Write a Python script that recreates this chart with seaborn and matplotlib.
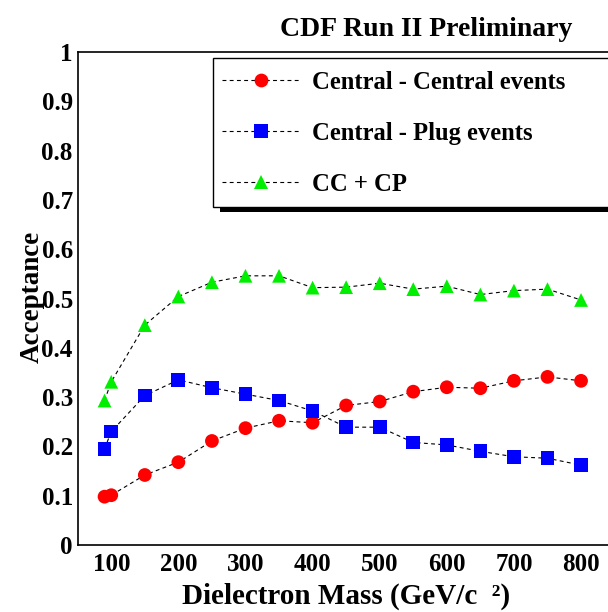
import numpy as np
import pandas as pd
import matplotlib
matplotlib.use("Agg")
import matplotlib.pyplot as plt
from matplotlib.lines import Line2D
from matplotlib.patches import Rectangle
from matplotlib.ticker import MultipleLocator, FixedLocator
import seaborn as sns

# ---- data ----
mass = [90, 100, 150, 200, 250, 300, 350, 400, 450, 500, 550, 600, 650, 700, 750, 800]
cc_acc = [0.098, 0.101, 0.142, 0.168, 0.211, 0.237, 0.252, 0.248, 0.283, 0.291,
          0.311, 0.320, 0.318, 0.333, 0.341, 0.333]
cp_acc = [0.195, 0.230, 0.303, 0.335, 0.319, 0.306, 0.293, 0.272, 0.239, 0.239,
          0.208, 0.203, 0.190, 0.179, 0.176, 0.162]
tot_acc = [0.293, 0.331, 0.446, 0.504, 0.533, 0.546, 0.546, 0.522, 0.523, 0.531,
           0.519, 0.525, 0.508, 0.516, 0.519, 0.497]
series_labels = ["Central - Central events", "Central - Plug events", "CC + CP"]
series_colors = ["#ff0000", "#0000ff", "#00ee00"]
series_markers = ["o", "s", "^"]
y_ticks = [0, 0.1, 0.2, 0.3, 0.4, 0.5, 0.6, 0.7, 0.8, 0.9, 1.0]
y_tick_labels = ["0", "0.1", "0.2", "0.3", "0.4", "0.5", "0.6", "0.7", "0.8", "0.9", "1"]
x_ticks = [100, 200, 300, 400, 500, 600, 700, 800]
title = "CDF Run II Preliminary"
xlabel = "Dielectron Mass (GeV/c  \u00b2)"
ylabel = "Acceptance"

df = pd.DataFrame({
    "mass": mass * 3,
    "acc": cc_acc + cp_acc + tot_acc,
    "series": [series_labels[0]] * len(mass) + [series_labels[1]] * len(mass)
              + [series_labels[2]] * len(mass),
})

sns.set_theme(style="white")
plt.rcParams["font.family"] = ["Liberation Serif", "DejaVu Serif"]
plt.rcParams["font.weight"] = "bold"
plt.rcParams["text.color"] = "black"
plt.rcParams["axes.labelcolor"] = "black"
plt.rcParams["xtick.color"] = "black"
plt.rcParams["ytick.color"] = "black"

W, H = 608, 612
fig = plt.figure(figsize=(W / 100, H / 100), dpi=100)
x0, x1 = 77.7, 614.6
y0, y1 = 545, 52
ax = fig.add_axes([x0 / W, 1 - y0 / H, (x1 - x0) / W, (y0 - y1) / H])

# dashed connecting lines
for lab in series_labels:
    sub = df[df["series"] == lab]
    sns.lineplot(data=sub, x="mass", y="acc", ax=ax, color="black",
                 linewidth=0.8, dashes=False, linestyle=(0, (3.5, 3)),
                 legend=False, sort=False)

# markers
sns.scatterplot(data=df, x="mass", y="acc", hue="series", style="series",
                palette=dict(zip(series_labels, series_colors)),
                markers=dict(zip(series_labels, series_markers)),
                s=98, linewidth=0, ax=ax, legend=False, zorder=3)

ax.set_xlim(50, 850)
ax.set_ylim(0, 1)
ax.xaxis.set_major_locator(FixedLocator(x_ticks))
ax.xaxis.set_minor_locator(MultipleLocator(20))
ax.yaxis.set_major_locator(FixedLocator(y_ticks))
ax.yaxis.set_minor_locator(MultipleLocator(0.02))
ax.set_xticklabels([str(v) for v in x_ticks])
ax.set_yticklabels(y_tick_labels)
ax.tick_params(axis="both", which="both", direction="in", colors="black",
               labelcolor="black", top=False, right=False)
ax.tick_params(axis="both", which="major", length=11, width=0.9, labelsize=18)
ax.tick_params(axis="both", which="minor", length=5.5, width=0.9)
ax.tick_params(axis="x", which="major", pad=6)
ax.tick_params(axis="y", which="major", pad=3.5)
for sp in ax.spines.values():
    sp.set_color("black")
    sp.set_linewidth(1.2)

ax.set_xlabel(xlabel, fontsize=21, fontweight="bold", va="center", color="black")
ax.set_ylabel(ylabel, fontsize=19.5, fontweight="bold", va="center", color="black")
ax.xaxis.set_label_coords((346 - x0) / (x1 - x0), -(596 - y0) / (y0 - y1))
ax.yaxis.set_label_coords((32 - x0) / (x1 - x0), (y0 - 297) / (y0 - y1))

# title
fig.text(280 / W, 1 - 30 / H, title, fontsize=20, fontweight="bold",
         ha="left", va="center", color="black")

# legend frame + shadow (ROOT style)
lx0, ly0, lx1, ly1 = 212.5, 58.5, 640, 207
fig.add_artist(Rectangle((220 / W, 1 - 212 / H), (lx1 - 220) / W, 5.5 / H,
                         transform=fig.transFigure, facecolor="black",
                         edgecolor="none", zorder=4))
fig.add_artist(Rectangle((lx0 / W, 1 - ly1 / H), (lx1 - lx0) / W, (ly1 - ly0) / H,
                         transform=fig.transFigure, facecolor="white",
                         edgecolor="black", linewidth=1.0, zorder=5))

handles = [Line2D([0], [0], color="black", linewidth=0.8, linestyle=(0, (3.5, 3)),
                  marker=m, markersize=9.9, markerfacecolor=c, markeredgewidth=0)
           for c, m in zip(series_colors, series_markers)]
leg = fig.legend(handles, series_labels, loc="upper left",
                 bbox_to_anchor=(222 / W, 1 - 71 / H), bbox_transform=fig.transFigure,
                 frameon=False, fontsize=17.7, handlelength=3.15, handletextpad=0.5,
                 labelspacing=1.14, borderpad=0, borderaxespad=0)
leg.set_zorder(6)
for t in leg.get_texts():
    t.set_fontweight("bold")
    t.set_color("black")

fig.savefig("out.png", dpi=100, facecolor="white")
